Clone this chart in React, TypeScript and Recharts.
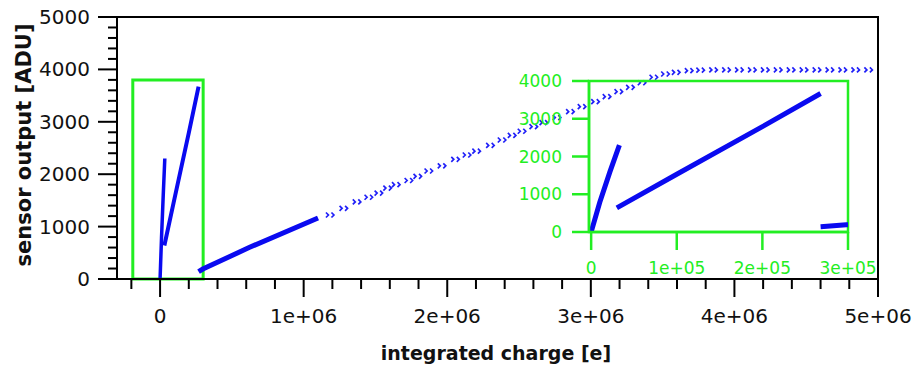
import React from 'react';
import { ComposedChart, Line, Scatter, XAxis, YAxis, ReferenceArea } from 'recharts';

// dense parts of the response (charge in e, output in ADU)
const steepCharge = [0, 10000, 22000, 33000];
const steepOutput = [0, 780, 1600, 2300];
const slopeCharge = [30000, 100000, 200000, 268000];
const slopeOutput = [640, 1530, 2790, 3670];
const tailCharge = [268000, 298000, 620000, 1100000];
const tailOutput = [140, 190, 600, 1165];

// sparse high-charge points, up to saturation
const sparseCharge = [
  1190000, 1285000, 1377000, 1459000, 1529000, 1590000, 1650000, 1738000, 1800000, 1877000,
  1969000, 2063000, 2143000, 2210000, 2306000, 2387000, 2457000, 2526000, 2608000, 2678000,
  2770000, 2863000, 2944000, 3038000, 3118000, 3200000, 3281000, 3362000, 3444000, 3525000,
  3600000, 3690000, 3770000, 3860000, 3950000, 4040000, 4130000, 4220000, 4310000, 4400000,
  4490000, 4580000, 4670000, 4760000, 4850000, 4940000,
];
const sparseOutput = [
  1221, 1349, 1470, 1560, 1640, 1735, 1800, 1880, 1960, 2061,
  2160, 2284, 2366, 2440, 2550, 2653, 2740, 2820, 2906, 2983,
  3080, 3193, 3288, 3384, 3479, 3574, 3658, 3745, 3850, 3912,
  3945, 3975, 3985, 3990, 3990, 3990, 3990, 3990, 3990, 3990,
  3990, 3990, 3990, 3990, 3990, 3990,
];

const mainXMajor = [0, 1000000, 2000000, 3000000, 4000000, 5000000];
const mainXLabels = ['0', '1e+06', '2e+06', '3e+06', '4e+06', '5e+06'];
const mainYMajor = [0, 1000, 2000, 3000, 4000, 5000];
const mainYLabels = ['0', '1000', '2000', '3000', '4000', '5000'];
const insetXTicks = [0, 100000, 200000, 300000];
const insetXLabels = ['0', '1e+05', '2e+05', '3e+05'];
const insetYTicks = [0, 1000, 2000, 3000, 4000];
const insetYLabels = ['0', '1000', '2000', '3000', '4000'];

const FONT = '"DejaVu Sans", Verdana, sans-serif';
const INK = '#000';
const GREEN = '#22ee22';
const BLUE = '#0a0af0';

const stepTicks = (from: number, to: number, step: number) => {
  const out: number[] = [];
  for (let v = from; v <= to; v += step) out.push(v);
  return out;
};
const mainXTicks = stepTicks(-200000, 5000000, 200000);
const mainYTicks = stepTicks(0, 5000, 200);

const pts = (xs: number[], ys: number[]) => xs.map((x, i) => ({ x, y: ys[i] }));

function MainXTick(props: any) {
  const { x, y, payload } = props;
  const i = mainXMajor.indexOf(payload.value);
  return (
    <g>
      <line x1={x} x2={x} y1={y} y2={y + (i >= 0 ? 18 : 10)} stroke={INK} strokeWidth={2} />
      {i >= 0 && (
        <text x={x} y={y + 37} textAnchor="middle" dominantBaseline="central" fontFamily={FONT} fontSize={20} fill="#111">
          {mainXLabels[i]}
        </text>
      )}
    </g>
  );
}

function MainYTick(props: any) {
  const { x, y, payload } = props;
  const i = mainYMajor.indexOf(payload.value);
  return (
    <g>
      <line x1={x} x2={x - (i >= 0 ? 19 : 9)} y1={y} y2={y} stroke={INK} strokeWidth={2} />
      {i >= 0 && (
        <text x={x - 27} y={y} textAnchor="end" dominantBaseline="central" fontFamily={FONT} fontSize={20} fill="#111">
          {mainYLabels[i]}
        </text>
      )}
    </g>
  );
}

function InsetXTick(props: any) {
  const { x, y, payload } = props;
  const i = insetXTicks.indexOf(payload.value);
  return (
    <g>
      <line x1={x} x2={x} y1={y} y2={y + 18} stroke={GREEN} strokeWidth={2.5} />
      <text x={x} y={y + 36} textAnchor="middle" dominantBaseline="central" fontFamily={FONT} fontSize={17} fill={GREEN}>
        {insetXLabels[i]}
      </text>
    </g>
  );
}

function InsetYTick(props: any) {
  const { x, y, payload } = props;
  const i = insetYTicks.indexOf(payload.value);
  return (
    <g>
      <line x1={x} x2={x - 17} y1={y} y2={y} stroke={GREEN} strokeWidth={2.5} />
      <text x={x - 27} y={y} textAnchor="end" dominantBaseline="central" fontFamily={FONT} fontSize={17} fill={GREEN}>
        {insetYLabels[i]}
      </text>
    </g>
  );
}

const XTitle = () => (
  <text x={496} y={353} textAnchor="middle" dominantBaseline="central" fontFamily={FONT} fontWeight="bold" fontSize={19} fill="#111">
    integrated charge [e]
  </text>
);

const YTitle = () => (
  <text
    x={24}
    y={145}
    transform="rotate(-90, 24, 145)"
    textAnchor="middle"
    dominantBaseline="central"
    fontFamily={FONT}
    fontWeight="bold"
    fontSize={21}
    fill="#111"
  >
    sensor output [ADU]
  </text>
);

function Chevrons(props: any) {
  const { cx, cy } = props;
  if (cx == null || cy == null) return null;
  const d =
    `M${cx - 5},${cy - 2.5} L${cx - 2.5},${cy} L${cx - 5},${cy + 2.5} ` +
    `M${cx + 0.5},${cy - 2.5} L${cx + 3},${cy} L${cx + 0.5},${cy + 2.5}`;
  return <path d={d} stroke="#2020f8" strokeWidth={1.7} fill="none" />;
}

const lineProps = {
  type: 'linear' as const,
  dataKey: 'y',
  stroke: BLUE,
  dot: false,
  activeDot: false,
  isAnimationActive: false,
};

export default function App() {
  const steep = pts(steepCharge, steepOutput);
  const slope = pts(slopeCharge, slopeOutput);
  const tail = pts(tailCharge, tailOutput);
  const sparse = pts(sparseCharge, sparseOutput);

  return (
    <div style={{ position: 'absolute', left: 0, top: 0, width: 912, height: 369, background: '#fff' }}>
      <div style={{ position: 'absolute', left: 0, top: 0 }}>
        <ComposedChart width={912} height={369} margin={{ top: 17, right: 34, bottom: 0, left: 0 }}>
          <XAxis
            type="number"
            dataKey="x"
            domain={[-300000, 5000000]}
            allowDataOverflow
            ticks={mainXTicks}
            interval={0}
            tick={<MainXTick />}
            tickLine={false}
            tickSize={0}
            tickMargin={0}
            axisLine={{ stroke: INK, strokeWidth: 2 }}
            height={90}
            label={<XTitle />}
          />
          <YAxis
            type="number"
            dataKey="y"
            domain={[0, 5000]}
            allowDataOverflow
            ticks={mainYTicks}
            interval={0}
            tick={<MainYTick />}
            tickLine={false}
            tickSize={0}
            tickMargin={0}
            axisLine={{ stroke: INK, strokeWidth: 2 }}
            width={117}
            label={<YTitle />}
          />
          <ReferenceArea x1={-300000} x2={5000000} y1={0} y2={5000} fill="none" stroke={INK} strokeWidth={2} />
          <Line {...lineProps} data={steep} strokeWidth={3.5} />
          <Line {...lineProps} data={slope} strokeWidth={4} />
          <Line {...lineProps} data={tail} strokeWidth={5} />
          <Scatter data={sparse} dataKey="y" shape={<Chevrons />} isAnimationActive={false} />
          <ReferenceArea x1={-190000} x2={300000} y1={0} y2={3800} fill="none" stroke={GREEN} strokeWidth={3} />
        </ComposedChart>
      </div>
      <div style={{ position: 'absolute', left: 500, top: 60 }}>
        <ComposedChart width={400} height={230} margin={{ top: 21, right: 52, bottom: 0, left: 0 }}>
          <XAxis
            type="number"
            dataKey="x"
            domain={[-2500, 300000]}
            allowDataOverflow
            ticks={insetXTicks}
            interval={0}
            tick={<InsetXTick />}
            tickLine={false}
            tickSize={0}
            tickMargin={0}
            axisLine={{ stroke: GREEN, strokeWidth: 2.5 }}
            height={58}
          />
          <YAxis
            type="number"
            dataKey="y"
            domain={[0, 4000]}
            allowDataOverflow
            ticks={insetYTicks}
            interval={0}
            tick={<InsetYTick />}
            tickLine={false}
            tickSize={0}
            tickMargin={0}
            axisLine={{ stroke: GREEN, strokeWidth: 2.5 }}
            width={89}
          />
          <ReferenceArea x1={-2500} x2={300000} y1={0} y2={4000} fill="none" stroke={GREEN} strokeWidth={2.5} />
          <Line {...lineProps} data={steep} strokeWidth={5} />
          <Line {...lineProps} data={slope} strokeWidth={5} />
          <Line {...lineProps} data={tail} strokeWidth={5} />
        </ComposedChart>
      </div>
    </div>
  );
}
